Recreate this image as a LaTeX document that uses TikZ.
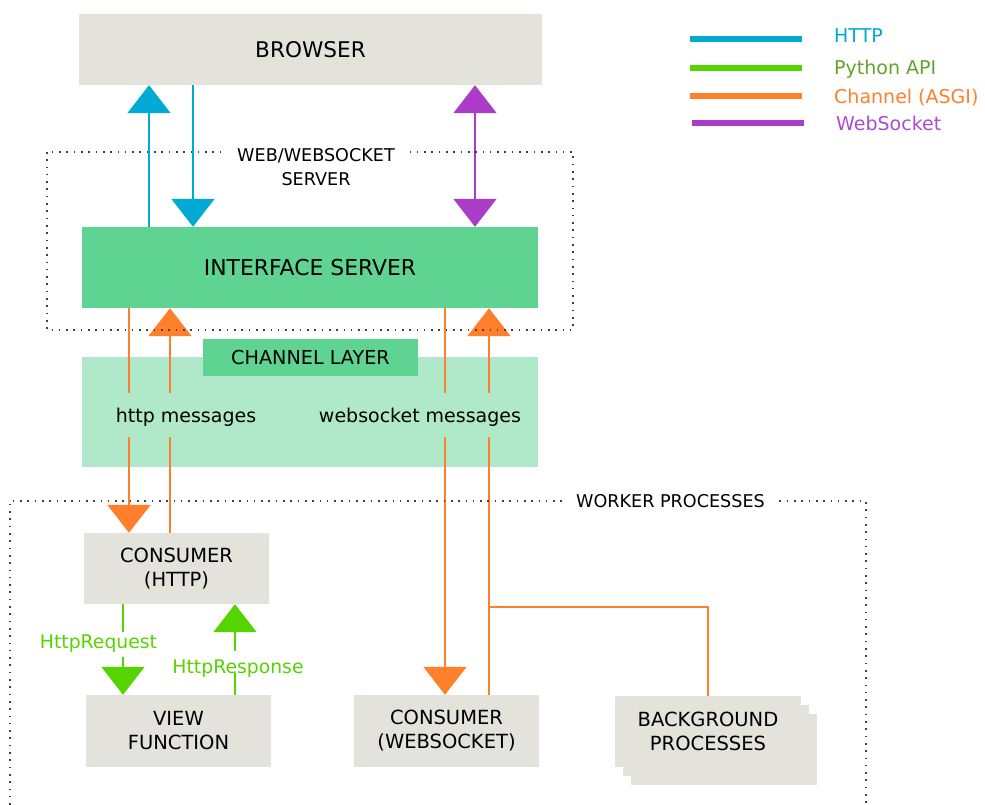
\documentclass[tikz,border=0pt]{standalone}
\usepackage{fontspec}
\setmainfont{DejaVu Sans}
\usetikzlibrary{arrows.meta,calc}

\definecolor{boxgray}{RGB}{227,226,219}
\definecolor{ifgreen}{RGB}{95,211,146}
\definecolor{chlight}{RGB}{176,233,201}
\definecolor{httpblue}{RGB}{0,170,212}
\definecolor{apigreen}{RGB}{85,212,0}
\definecolor{apitext}{RGB}{95,165,45}
\definecolor{chorange}{RGB}{255,127,42}
\definecolor{wspurple}{RGB}{170,60,200}
\definecolor{wstext}{RGB}{170,75,210}

\tikzset{
  bigtri/.tip={Triangle[width=43pt,length=28pt]},
  txt/.style={inner sep=0pt, align=center, text=black},
  box/.style={txt, fill=boxgray, font=\fontsize{19.5}{24}\selectfont},
  gbox/.style={box, minimum width=185pt, minimum height=71pt},
  httpline/.style={draw=httpblue, line width=2pt},
  apiline/.style={draw=apigreen, line width=1.8pt},
  chline/.style={draw=chorange, line width=1.8pt},
  wsline/.style={draw=wspurple, line width=2pt},
  dotbox/.style={draw=black!75, line width=1.6pt, dash pattern=on 1.6pt off 5.7pt},
  legline/.style={line width=6pt},
  legtext/.style={anchor=base west, inner sep=0pt, font=\fontsize{19}{24}\selectfont},
  msg/.style={txt, font=\fontsize{19}{24}\selectfont, anchor=base, text height=29pt, text depth=15pt},
  apilabel/.style={inner sep=0pt, anchor=base, text=apigreen, font=\fontsize{18.8}{22}\selectfont},
}

\begin{document}
\begin{tikzpicture}[x=1pt,y=-1pt]
\useasboundingbox (0,0) rectangle (985,805);

% ---- boxes ----
\node[box, minimum width=463pt, minimum height=71pt, font=\fontsize{21.6}{24}\selectfont] (browser) at (310.5,49.5) {BROWSER};
\node[box, fill=ifgreen, minimum width=456pt, minimum height=81pt, font=\fontsize{21.9}{24}\selectfont] (iface) at (310,267.5) {INTERFACE SERVER};
\node[fill=chlight, inner sep=0pt, minimum width=456pt, minimum height=110pt] (chan) at (310,412) {};
\node[box, fill=ifgreen, minimum width=215pt, minimum height=37pt, font=\fontsize{19.2}{24}\selectfont] (chanlbl) at (310.5,357.5) {CHANNEL LAYER};

\node[gbox] (consH) at (176.5,568.5) {CONSUMER\\(HTTP)};
\node[gbox, minimum height=72pt] (view) at (178.5,731) {VIEW\\FUNCTION};
\node[gbox, minimum height=72pt] (consWS) at (446.5,731) {CONSUMER\\(WEBSOCKET)};

% background processes: a stack of three cards
\node[gbox, minimum width=186pt] (bg3) at (724,749.5) {};
\node[gbox, minimum width=186pt] (bg2) at (715.5,740.5) {};
\node[gbox, minimum width=186pt] (bg) at (708,731.5) {BACKGROUND\\PROCESSES};

% ---- message labels inside the channel layer ----
\node[msg] (httpmsg) at (186,422) {http messages};
\node[msg] (wsmsg) at (420,422) {websocket messages};

% x positions of the vertical connectors
\coordinate (xHup) at (149,0);
\coordinate (xHdn) at (193,0);
\coordinate (xWS) at (475,0);
\coordinate (xCa) at (129,0);
\coordinate (xCb) at (170,0);
\coordinate (xCc) at (445,0);
\coordinate (xCd) at (489,0);
\coordinate (xReq) at (123,0);
\coordinate (xResp) at (235,0);

% ---- HTTP ----
\draw[httpline, -bigtri] (iface.north -| xHup) -- (browser.south -| xHup);
\draw[httpline, -bigtri] (browser.south -| xHdn) -- (iface.north -| xHdn);

% ---- WebSocket ----
\draw[wsline, bigtri-bigtri] (browser.south -| xWS) -- (iface.north -| xWS);

% ---- channel (ASGI) ----
\draw[chline] (iface.south -| xCa) -- (httpmsg.north -| xCa);
\draw[chline, -bigtri] (httpmsg.south -| xCa) -- (consH.north -| xCa);
\draw[chline] (consH.north -| xCb) -- (httpmsg.south -| xCb);
\draw[chline, -bigtri] (httpmsg.north -| xCb) -- (iface.south -| xCb);

\draw[chline] (iface.south -| xCc) -- (wsmsg.north -| xCc);
\draw[chline, -bigtri] (wsmsg.south -| xCc) -- (consWS.north -| xCc);
\draw[chline] (consWS.north -| xCd) -- (wsmsg.south -| xCd);
\draw[chline, -bigtri] (wsmsg.north -| xCd) -- (iface.south -| xCd);

\coordinate (split) at (489,607);
\draw[chline] (split) -| (bg.north);

% ---- Python API ----
\node[apilabel, text height=16pt, text depth=9pt] (req) at (98.5,648) {HttpRequest};
\node[apilabel, text height=22pt, text depth=0pt] (resp) at (238,673) {HttpResponse};
\draw[apiline] (consH.south -| xReq) -- (req.north -| xReq);
\draw[apiline, -bigtri] (req.south -| xReq) -- (view.north -| xReq);
\draw[apiline] (view.north -| xResp) -- (resp.south -| xResp);
\draw[apiline, -bigtri] (resp.north -| xResp) -- (consH.south -| xResp);

% ---- dotted groupings ----
\draw[dotbox] (47,152) rectangle (573,330);
\node[txt, fill=white, inner xsep=15pt, inner ysep=3pt, font=\fontsize{17.6}{24}\selectfont] (weblbl) at (316,167) {WEB/WEBSOCKET\\SERVER};
\draw[dotbox] (10,812) -- (10,501) -- (866,501) -- (866,812);
\node[txt, fill=white, inner xsep=11pt, inner ysep=3pt, font=\fontsize{17.6}{20}\selectfont] (worklbl) at (670.5,501) {WORKER PROCESSES};

% ---- legend ----
\draw[legline, httpblue] (690,39) -- (802,39);
\draw[legline, apigreen] (690,68.5) -- (802,68.5);
\draw[legline, chorange] (690,96) -- (802,96);
\draw[legline, wspurple] (692,123.5) -- (804,123.5);
\node[legtext, text=httpblue] (lgHttp) at (834,43) {HTTP};
\node[legtext, text=apitext] (lgApi) at (834,75) {Python API};
\node[legtext, text=chorange] (lgCh) at (834,103.5) {Channel (ASGI)};
\node[legtext, text=wstext] (lgWs) at (836,131) {WebSocket};
\end{tikzpicture}
\end{document}
